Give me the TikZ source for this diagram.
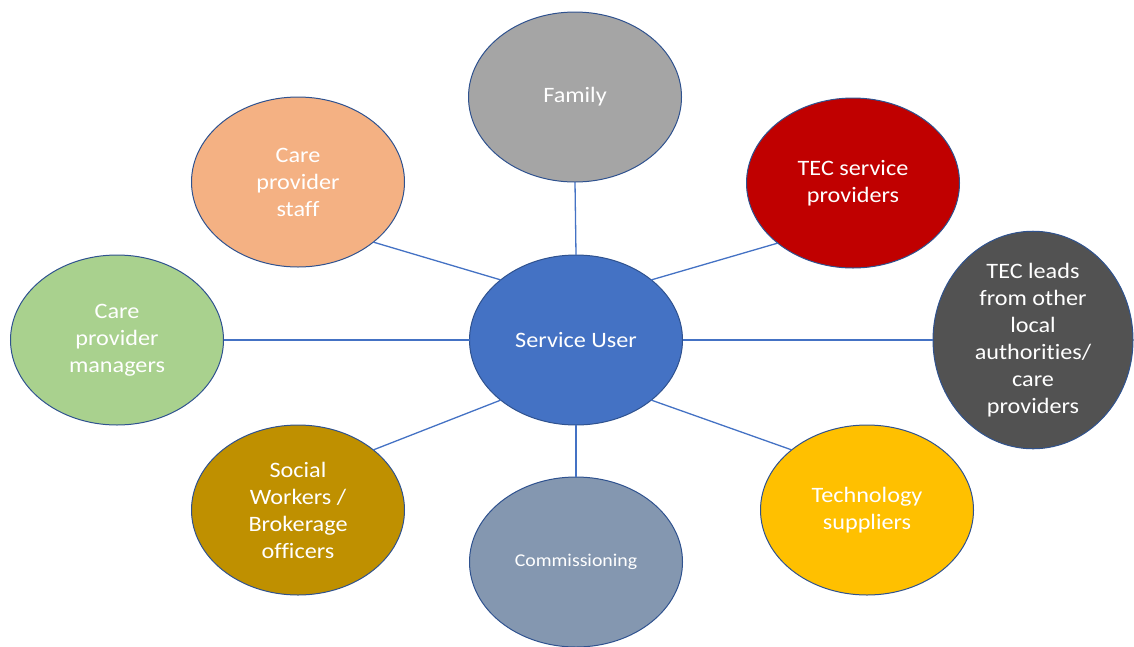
\documentclass[tikz,border=0pt]{standalone}
\usepackage{fontspec}
\setmainfont{Carlito}[FakeStretch=1.1, Ligatures={NoCommon}]
\usetikzlibrary{shapes.geometric}
\definecolor{suBlue}{HTML}{4472C4}
\definecolor{rimBlue}{HTML}{2F528F}
\definecolor{famGray}{HTML}{A5A5A5}
\definecolor{staffPeach}{HTML}{F4B183}
\definecolor{tecRed}{HTML}{C00000}
\definecolor{mgrGreen}{HTML}{A9D18E}
\definecolor{leadGray}{HTML}{525252}
\definecolor{swGold}{HTML}{BF9000}
\definecolor{comSlate}{HTML}{8497B0}
\definecolor{techAmber}{HTML}{FFC000}
\tikzset{
  bubble/.style={ellipse, draw=rimBlue, line width=1pt, inner sep=0pt, outer sep=0pt,
    minimum width=213pt, minimum height=170pt, text=white, align=center,
    font=\fontsize{22}{27}\selectfont},
  link/.style={draw=suBlue, line width=1.3pt}
}
\begin{document}
\begin{tikzpicture}[x=1pt, y=-1pt]
  \useasboundingbox (0,0) rectangle (1134,646);
  % hub
  \node[bubble, fill=suBlue] (su) at (576,340) {Service User};
  % surrounding groups
  \node[bubble, fill=famGray] (fam) at (575,97) {Family};
  \node[bubble, fill=staffPeach] (staff) at (298,182) {Care\\provider\\staff};
  \node[bubble, fill=tecRed] (tecs) at (853,183) {TEC service\\providers};
  \node[bubble, fill=mgrGreen] (mgr) at (117,340) {Care\\provider\\managers};
  \node[bubble, fill=leadGray, minimum width=200pt] (lead) at (1033,340)
    {TEC leads\\from other\\local\\authorities/\\care\\providers};
  \node[bubble, fill=swGold] (sw) at (298,510) {Social\\Workers /\\Brokerage\\officers};
  \node[bubble, fill=comSlate, font=\fontsize{18}{22}\selectfont] (com) at (576,562) {Commissioning};
  \node[bubble, fill=techAmber] (tech) at (867,510) {Technology\\suppliers};
  % connectors
  \draw[link] (su.north) -- (fam.south);
  \draw[link] (su.south) -- (com.north);
  \draw[link] (su.west) -- (mgr.east);
  \draw[link] (su.east) -- (lead.west);
  \draw[link] (su.north west) -- (staff.south east);
  \draw[link] (su.north east) -- (tecs.south west);
  \draw[link] (su.south west) -- (sw.north east);
  \draw[link] (su.south east) -- (tech.north west);
\end{tikzpicture}
\end{document}
